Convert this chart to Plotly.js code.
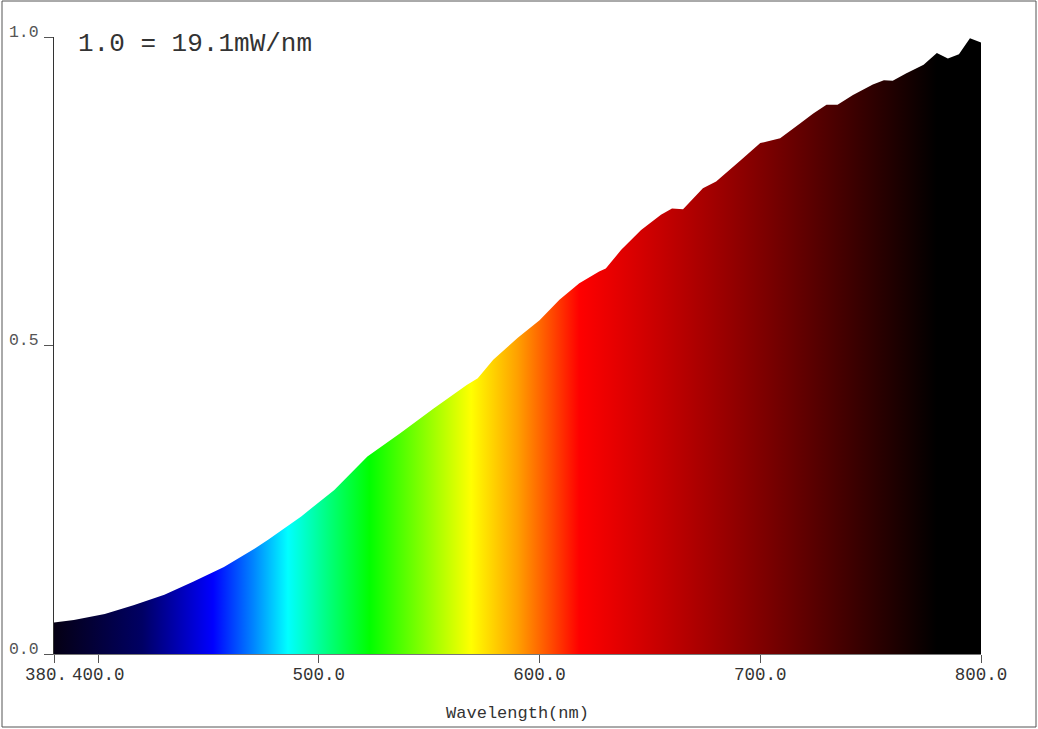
<!DOCTYPE html>
<html>
<head>
<meta charset="utf-8">
<script src="https://cdn.plot.ly/plotly-3.0.1.min.js"></script>
<style>
  html, body { margin: 0; padding: 0; background: #fff; }
  #chart { width: 1038px; height: 729px; }
</style>
</head>
<body>
<div id="chart"></div>
<script>
// ---- data ----
const wavelength = [380,389,403,416,430,443,457,471,477,492,507,522,537,552,567,572,579,590,600,609,618,627,630,637,646,655,660,665,674,680,691,700,709,718,724,730,735,742,751,756,760,766,774,780,785,790,795,800];
const intensity  = [0.051,0.055,0.065,0.079,0.096,0.117,0.141,0.171,0.185,0.223,0.266,0.320,0.358,0.398,0.436,0.447,0.477,0.512,0.541,0.574,0.601,0.620,0.625,0.655,0.687,0.712,0.722,0.721,0.755,0.766,0.800,0.828,0.836,0.860,0.876,0.890,0.890,0.906,0.923,0.930,0.929,0.941,0.955,0.974,0.965,0.972,0.998,0.991];

const xTickVals  = [380, 400, 500, 600, 700, 800];
const xTickText  = ['', '400.0', '500.0', '600.0', '700.0', '800.0'];
const firstTickText = '380.';   // left-most label, drawn right-aligned against "400.0"
const yTickVals  = [0, 0.5, 1.0];
const yTickText  = ['0.0', '0.5', '1.0'];

const chartTitle = '1.0 = 19.1mW/nm';
const xTitle = 'Wavelength(nm)';

// spectrum colour stops (wavelength nm -> colour), used as a horizontal fill gradient
const spectrumStops = [
  [380, 'rgb(5,0,20)'],
  [420, 'rgb(0,0,100)'],
  [452, 'rgb(0,0,255)'],
  [470, 'rgb(0,130,255)'],
  [486, 'rgb(0,255,255)'],
  [505, 'rgb(0,255,120)'],
  [523, 'rgb(0,255,0)'],
  [569, 'rgb(255,255,0)'],
  [590, 'rgb(255,160,0)'],
  [606, 'rgb(255,70,0)'],
  [618, 'rgb(255,0,0)'],
  [700, 'rgb(128,0,0)'],
  [780, 'rgb(0,0,0)'],
  [800, 'rgb(0,0,0)']
];
const xMin = 380, xMax = 800;
const colorscale = spectrumStops.map(s => [(s[0] - xMin) / (xMax - xMin), s[1]]);

const mono = 'Liberation Mono, Courier New, monospace';

const trace = {
  type: 'scatter',
  x: wavelength,
  y: intensity,
  mode: 'none',
  fill: 'tozeroy',
  fillgradient: { type: 'horizontal', colorscale: colorscale, start: xMin, stop: xMax },
  hoverinfo: 'x+y',
  showlegend: false
};

const layout = {
  width: 1038,
  height: 729,
  margin: { l: 54, r: 57, t: 37, b: 75, pad: 0 },
  paper_bgcolor: '#ffffff',
  plot_bgcolor: '#ffffff',
  showlegend: false,
  title: {
    text: chartTitle,
    font: { family: mono, size: 26, color: '#333333' },
    xref: 'container', yref: 'container',
    x: 78 / 1038, xanchor: 'left',
    y: 1 - 42 / 729, yanchor: 'middle'
  },
  xaxis: {
    range: [xMin, xMax],
    tickmode: 'array',
    tickvals: xTickVals,
    ticktext: xTickText,
    tickangle: 0,
    ticks: 'outside',
    ticklen: 8,
    tickwidth: 1,
    tickcolor: '#555555',
    showline: true,
    linecolor: '#777777',
    linewidth: 1,
    showgrid: false,
    zeroline: false,
    ticklabelstandoff: -4,
    tickfont: { family: mono, size: 17.5, color: '#333333' },
    title: { text: xTitle, font: { family: mono, size: 17, color: '#333333' }, standoff: 22 },
    automargin: false,
    fixedrange: true
  },
  yaxis: {
    range: [0, 1.0],
    tickmode: 'array',
    tickvals: yTickVals,
    ticktext: yTickText,
    ticks: 'outside',
    ticklen: 9,
    tickwidth: 1,
    tickcolor: '#555555',
    showline: true,
    linecolor: '#333333',
    linewidth: 1,
    showgrid: false,
    zeroline: false,
    ticklabelshift: -6,
    ticklabelstandoff: 2,
    tickfont: { family: mono, size: 16.5, color: '#555555' },
    automargin: false,
    fixedrange: true
  },
  annotations: [
    {
      text: firstTickText,
      xref: 'x', yref: 'paper',
      x: xMin, y: 0,
      xanchor: 'right', yanchor: 'top',
      xshift: 15, yshift: -9,
      showarrow: false,
      font: { family: mono, size: 17.5, color: '#333333' }
    }
  ],
  shapes: [
    {
      type: 'rect',
      xref: 'paper', yref: 'paper',
      x0: (2 - 54) / 927, x1: (1036 - 54) / 927,
      y0: (654 - 727) / 617, y1: (654 - 1) / 617,
      line: { color: '#555555', width: 1 },
      fillcolor: 'rgba(0,0,0,0)',
      layer: 'above'
    }
  ]
};

Plotly.newPlot('chart', [trace], layout, { displayModeBar: false, staticPlot: true });
</script>
</body>
</html>
